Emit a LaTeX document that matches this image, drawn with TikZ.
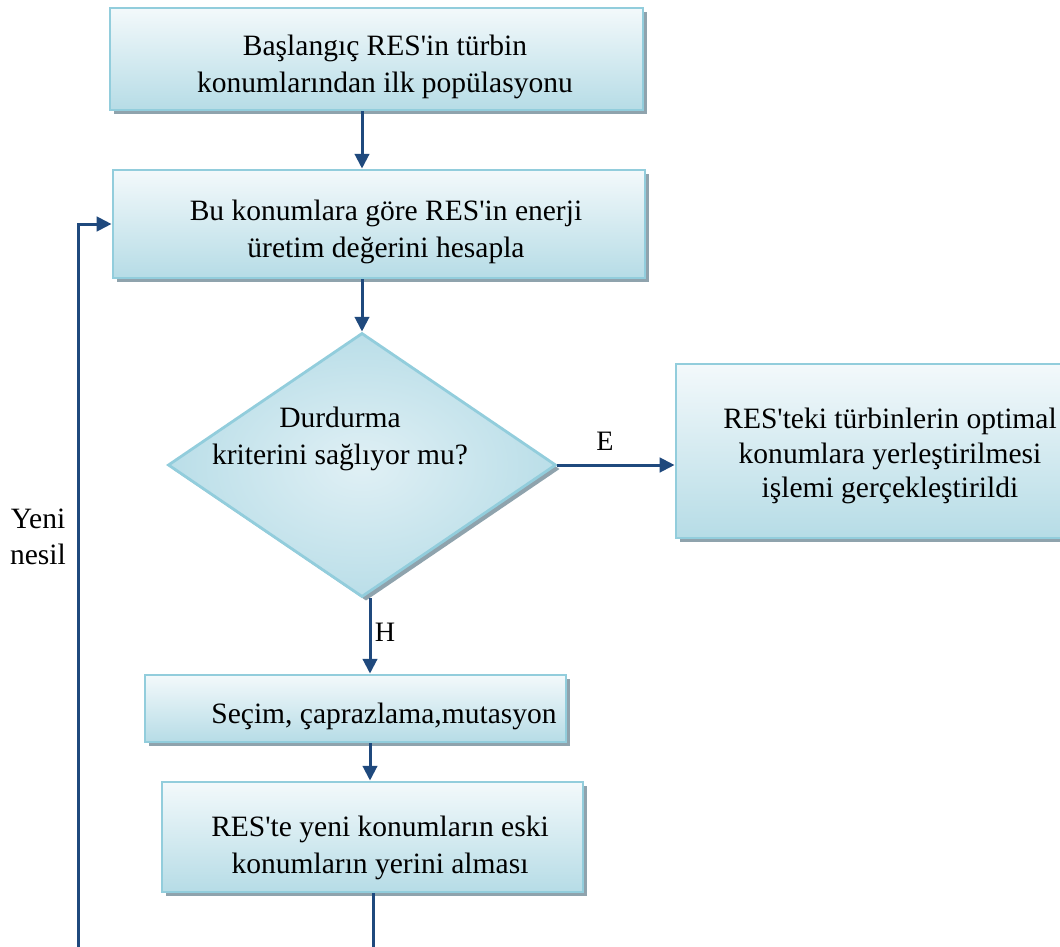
\documentclass[tikz,border=0pt]{standalone}
\usepackage{fontspec}
\setmainfont{Liberation Serif}
\usetikzlibrary{shapes.geometric,arrows.meta,shadows}
\definecolor{arrc}{HTML}{1F497D}
\definecolor{bordc}{HTML}{92CDDC}
\definecolor{topc}{HTML}{F3F9FB}
\definecolor{botc}{HTML}{B6DCE6}
\definecolor{shadc}{HTML}{8FA3AD}
\definecolor{dinner}{HTML}{E0F0F5}
\definecolor{douter}{HTML}{BADEE8}
\newcommand{\aq}{\textquotesingle}
\tikzset{
  boxnode/.style={rectangle, draw=bordc, line width=0.07cm, top color=topc, bottom color=botc,
    inner sep=0pt,
    drop shadow={shadow xshift=0.11cm, shadow yshift=-0.11cm, fill=shadc, opacity=1}},
  decnode/.style={diamond, draw=bordc, line width=0.07cm, shading=radial, inner color=dinner, outer color=douter,
    inner sep=0pt, minimum width=9.7cm, minimum height=6.6cm,
    drop shadow={shadow xshift=0.1cm, shadow yshift=-0.1cm, fill=shadc, opacity=1}},
  txt/.style={align=center, inner sep=0pt},
  arr/.style={draw=arrc, line width=0.075cm, -{Triangle[length=0.37cm, width=0.36cm]}},
  lbl/.style={font=\fontsize{20}{24}\selectfont, inner sep=0pt}
}
\begin{document}
\begin{tikzpicture}[x=0.025cm, y=-0.025cm, font=\fontsize{21}{26}\selectfont]
\clip (0,0) rectangle (1060,947);
\fill[white] (0,0) rectangle (1060,947);

\node[boxnode, minimum width=13.325cm, minimum height=2.55cm] (b1) at (376.5,59) {};
\node[txt] (t1) at (385,67) {Başlangıç RES\aq in türbin\\konumlarından ilk popülasyonu};
\node[boxnode, minimum width=13.3cm, minimum height=2.7cm] (b2) at (379,224) {};
\node[txt] (t2) at (386,232) {Bu konumlara göre RES\aq in enerji\\üretim değerini hesapla};
\node[decnode] (d) at (362,465) {};
\node[txt] (dt) at (340,439) {Durdurma\\kriterini sağlıyor mu?};
\node[boxnode, minimum width=10.7cm, minimum height=4.35cm] (b3) at (890,451) {};
\node[txt, font=\fontsize{21}{24.5}\selectfont] (t3) at (890,456) {RES\aq teki türbinlerin optimal\\konumlara yerleştirilmesi\\işlemi gerçekleştirildi};
\node[boxnode, minimum width=10.525cm, minimum height=1.675cm] (b4) at (355.5,708.5) {};
\node[txt] (t4) at (384,716) {Seçim, çaprazlama,mutasyon};
\node[boxnode, minimum width=10.525cm, minimum height=2.75cm] (b5) at (372.5,837) {};
\node[txt] (t5) at (380,848) {RES\aq te yeni konumların eski\\konumların yerini alması};

\coordinate (xa) at (362,0);
\coordinate (xb) at (370,0);
\draw[arr] (b1.south -| xa) -- (b2.north -| xa);
\draw[arr] (b2.south -| xa) -- (d.north);
\draw[arr] (d.east) -- (b3.west |- d.east);
\node[lbl] (le) at (605,441) {E};
\draw[arr] (d.south -| xb) -- (b4.north -| xb);
\node[lbl] (lh) at (385,632) {H};
\draw[arr] (b4.south -| xb) -- (b5.north -| xb);

\coordinate (c1) at (373,948);
\coordinate (c2) at (78,948);
\draw[arr] (b5.south -| c1) -- (c1) -- (c2) |- (b2.west);
\node[txt] (yn) at (38,537) {Yeni\\nesil};
\end{tikzpicture}
\end{document}
